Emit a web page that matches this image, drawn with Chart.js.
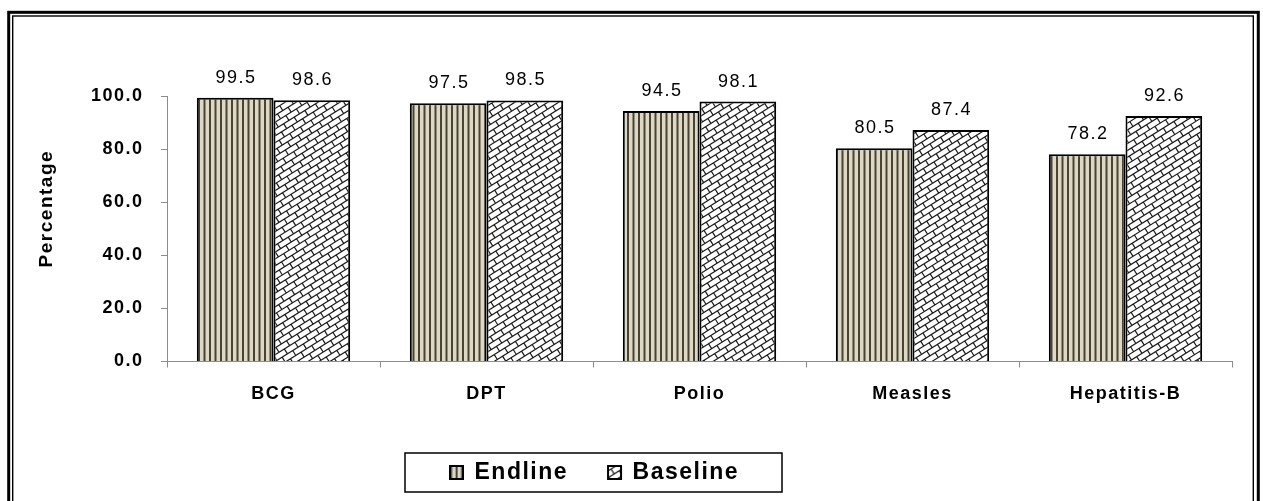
<!DOCTYPE html>
<html>
<head>
<meta charset="utf-8">
<script src="https://cdn.jsdelivr.net/npm/chart.js@4.4.1/dist/chart.umd.min.js"></script>
<style>
  html, body { margin: 0; padding: 0; background: #fff; }
  #wrap { width: 1263px; height: 501px; }
</style>
</head>
<body>
<div id="wrap"><canvas id="c" width="1263" height="501"></canvas></div>
<script>
const categories = ['BCG', 'DPT', 'Polio', 'Measles', 'Hepatitis-B'];
const endline = [99.5, 97.5, 94.5, 80.5, 78.2];
const baseline = [98.6, 98.5, 98.1, 87.4, 92.6];
const seriesNames = ['Endline', 'Baseline'];
const yTickValues = [0, 20, 40, 60, 80, 100];

const FONT = '"Liberation Sans", Arial, sans-serif';

function stripePattern() {
  const c = document.createElement('canvas');
  c.width = 11; c.height = 4;
  const g = c.getContext('2d');
  g.fillStyle = '#dcd8c3';
  g.fillRect(0, 0, 11, 4);
  g.fillStyle = '#4a4334';
  g.fillRect(0, 0, 2, 4);
  g.fillRect(5.5, 0, 2, 4);
  return c;
}
function brickPattern(W, H) {
  const c = document.createElement('canvas');
  c.width = W; c.height = H;
  const g = c.getContext('2d');
  g.fillStyle = '#fff';
  g.fillRect(0, 0, W, H);
  g.strokeStyle = '#1a1a1a';
  g.lineWidth = 1.2;
  const theta = 32 * Math.PI / 180;
  const h = 5.8, L = 12.5;
  const R = W + H;
  g.rotate(-theta);
  g.beginPath();
  const n0 = Math.floor(-R / h), n1 = Math.ceil(R / h);
  for (let n = n0; n <= n1; n++) {
    const v = n * h;
    g.moveTo(-R, v);
    g.lineTo(R, v);
    const off = (Math.abs(n) % 2) ? L / 2 : 0;
    for (let u = Math.floor(-R / L) * L + off; u <= R; u += L) {
      g.moveTo(u, v);
      g.lineTo(u, v + h);
    }
  }
  g.stroke();
  return c;
}

const ctx0 = document.getElementById('c').getContext('2d');
const patEnd = ctx0.createPattern(stripePattern(), 'repeat');
const patBase = ctx0.createPattern(brickPattern(1263, 501), 'repeat');

const framePlugin = {
  id: 'frame',
  beforeUpdate(chart) { chart.ctx.letterSpacing = '1.5px'; },
  beforeDraw(chart) {
    const ctx = chart.ctx;
    ctx.letterSpacing = '1.5px';
    ctx.save();
    ctx.fillStyle = '#fff';
    ctx.fillRect(0, 0, chart.width, chart.height);
    ctx.strokeStyle = '#000';
    ctx.lineWidth = 3;
    ctx.strokeRect(8.7, 12.3, 1258.3 - 8.7, 520);
    ctx.lineWidth = 1.4;
    ctx.strokeRect(12.7, 16, 1253.3 - 12.7, 520);
    ctx.restore();
  },
  afterLayout(chart) {
    const lg = chart.legend;
    if (!lg || lg._wrapped) return;
    lg._wrapped = true;
    const orig = lg.draw.bind(lg);
    lg.draw = function (area) {
      const ctx = chart.ctx;
      const hb = lg.legendHitBoxes;
      const shift = 450 - hb[0].left;
      ctx.save();
      ctx.translate(shift, 0);
      orig(area);
      const cy = hb[0].top + hb[0].height / 2;
      ctx.strokeStyle = '#000';
      ctx.lineWidth = 1.5;
      ctx.strokeRect(hb[0].left - 45, cy - 19.5, 377, 39);
      ctx.restore();
    };
  }
};

const valueLabels = {
  id: 'valueLabels',
  afterDatasetsDraw(chart) {
    const ctx = chart.ctx;
    ctx.save();
    ctx.font = '18px ' + FONT;
    ctx.fillStyle = '#000';
    ctx.textAlign = 'center';
    ctx.textBaseline = 'alphabetic';
    chart.data.datasets.forEach((ds, i) => {
      chart.getDatasetMeta(i).data.forEach((bar, j) => {
        ctx.fillText(ds.data[j].toFixed(1), bar.x + 0.75, bar.y - 15);
      });
    });
    ctx.restore();
  }
};

new Chart(document.getElementById('c'), {
  type: 'bar',
  data: {
    labels: categories,
    datasets: [
      { label: seriesNames[0], data: endline, backgroundColor: patEnd, borderColor: '#000', borderWidth: 2, categoryPercentage: 0.72, barPercentage: 1.0 },
      { label: seriesNames[1], data: baseline, backgroundColor: patBase, borderColor: '#000', borderWidth: 2, categoryPercentage: 0.72, barPercentage: 1.0 }
    ]
  },
  options: {
    responsive: false,
    animation: false,
    devicePixelRatio: 1,
    layout: { padding: { top: 96.5, left: 14, right: 31, bottom: 7 } },
    plugins: {
      legend: {
        position: 'bottom',
        labels: {
          font: { family: FONT, size: 23, weight: 'bold' },
          color: '#000',
          boxWidth: 13,
          boxHeight: 13,
          padding: 40
        }
      },
      tooltip: { enabled: false }
    },
    scales: {
      x: {
        grid: { drawOnChartArea: false, drawTicks: true, tickLength: 6, color: '#8c8c8c', offset: true },
        border: { color: '#8c8c8c', width: 1 },
        ticks: { font: { family: FONT, size: 18, weight: 'bold' }, color: '#000', padding: 16, maxRotation: 0, autoSkip: false },
        afterFit(s) { s.height = 59.5; }
      },
      y: {
        min: 0,
        max: 100,
        afterBuildTicks(s) { s.ticks = yTickValues.map(v => ({ value: v })); },
        ticks: { callback: v => Number(v).toFixed(1), font: { family: FONT, size: 18, weight: 'bold' }, color: '#000', padding: 17.5 },
        grid: { drawOnChartArea: false, drawTicks: true, tickLength: 6, color: '#8c8c8c' },
        border: { color: '#8c8c8c', width: 1 },
        title: { display: true, text: '      Percentage', font: { family: FONT, size: 19, weight: 'bold' }, color: '#000', padding: { top: 21, bottom: 0 } },
        afterFit(s) { s.width = 153; }
      }
    }
  },
  plugins: [framePlugin, valueLabels]
});
</script>
</body>
</html>
